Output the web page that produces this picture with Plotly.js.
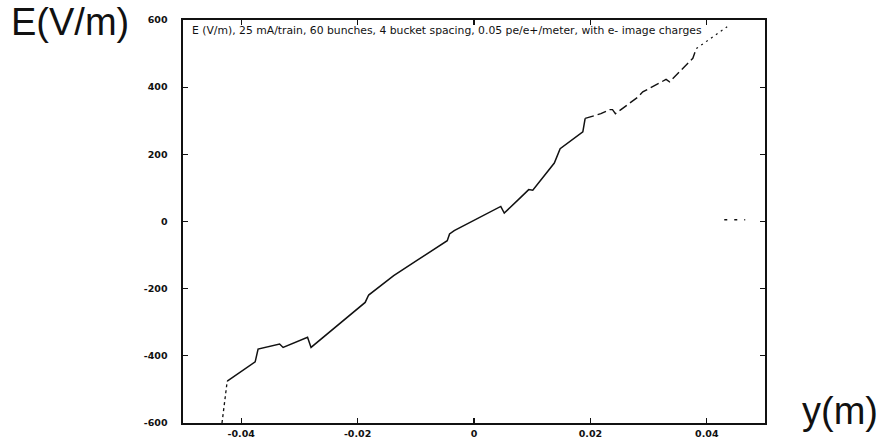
<!DOCTYPE html>
<html>
<head>
<meta charset="utf-8">
<script src="https://cdn.plot.ly/plotly-3.0.1.min.js"></script>
<style>html,body{margin:0;padding:0;background:#fff;}#chart{width:883px;height:445px;}</style>
</head>
<body>
<div id="chart"></div>
<script>
// Field E (V/m) versus y (m)
const startX = [-0.0433, -0.0424];
const startE = [-600, -475];

const mainX = [-0.0424, -0.0376, -0.0371, -0.0334, -0.0328, -0.0286, -0.0280, -0.0187, -0.0181, -0.0138, -0.0098, -0.0046, -0.0042, -0.0034, 0.0046, 0.0052, 0.0078, 0.0094, 0.0101, 0.0138, 0.0148, 0.0187, 0.0191];
const mainE = [-475, -418, -380, -365, -375, -345, -375, -241, -219, -161, -116, -57, -37, -27, 45, 25, 68, 95, 93, 174, 217, 267, 307];

const upperX = [0.0191, 0.0218, 0.0233, 0.0238, 0.0243, 0.0282, 0.0290, 0.0330, 0.0336, 0.0376, 0.0382];
const upperE = [307, 321, 333, 333, 321, 371, 386, 423, 416, 486, 515];

const tipX = [0.0382, 0.0435];
const tipE = [515, 580];

const strayX = [0.0430, 0.0466];
const strayE = [5, 5];

const xTicks = [-0.04, -0.02, 0, 0.02, 0.04];
const xTickText = ['-0.04', '-0.02', '0', '0.02', '0.04'];
const yTicks = [-600, -400, -200, 0, 200, 400, 600];
const yTickText = ['-600', '-400', '-200', '0', '200', '400', '600'];

const titleText = 'E (V/m), 25 mA/train, 60 bunches, 4 bucket spacing, 0.05 pe/e+/meter, with e- image charges';
const yLabel = 'E(V/m)';
const xLabel = 'y(m)';

const ink = '#111';
function seg(x, y, dash, w) {
  return {x: x, y: y, type: 'scatter', mode: 'lines', hoverinfo: 'skip',
          line: {color: ink, width: w, dash: dash}, showlegend: false};
}
const data = [
  seg(startX, startE, '3px,3px', 1.3),
  seg(mainX, mainE, 'solid', 1.5),
  seg(upperX, upperE, '9px,4px', 1.4),
  seg(tipX, tipE, '2px,4px', 1.2),
  seg(strayX, strayE, '3px,7px', 1.4)
];

const axisCommon = {
  showgrid: false, zeroline: false, showline: true, linecolor: ink, linewidth: 1.6,
  mirror: 'ticks', ticks: 'inside', ticklen: 5, tickwidth: 1.2, tickcolor: ink,
  tickfont: {family: 'DejaVu Sans, Liberation Sans, sans-serif', size: 9.5, color: ink, weight: 'bold'}
};
const layout = {
  width: 883, height: 445,
  margin: {l: 183, r: 118, t: 20, b: 22},
  paper_bgcolor: '#fff', plot_bgcolor: '#fff',
  xaxis: Object.assign({}, axisCommon, {range: [-0.05, 0.05], tickvals: xTicks, ticktext: xTickText, ticklabelstandoff: 1}),
  yaxis: Object.assign({}, axisCommon, {range: [-600, 600], tickvals: yTicks, ticktext: yTickText, ticklabelstandoff: 12}),
  annotations: [
    {text: titleText, xref: 'paper', yref: 'paper', x: 0.012, y: 0.973, xanchor: 'left', yanchor: 'middle',
     showarrow: false, font: {family: 'DejaVu Sans, Liberation Sans, sans-serif', size: 10.8, color: ink}},
    {text: yLabel, xref: 'paper', yref: 'paper', x: -0.194, y: 0.995, xanchor: 'center', yanchor: 'middle',
     showarrow: false, font: {family: 'Liberation Sans, Arial, sans-serif', size: 38, color: ink}},
    {text: xLabel, xref: 'paper', yref: 'paper', x: 1.129, y: 0.03, xanchor: 'center', yanchor: 'middle',
     showarrow: false, font: {family: 'Liberation Sans, Arial, sans-serif', size: 38, color: ink}}
  ]
};
Plotly.newPlot('chart', data, layout, {displayModeBar: false, staticPlot: true});
</script>
</body>
</html>
